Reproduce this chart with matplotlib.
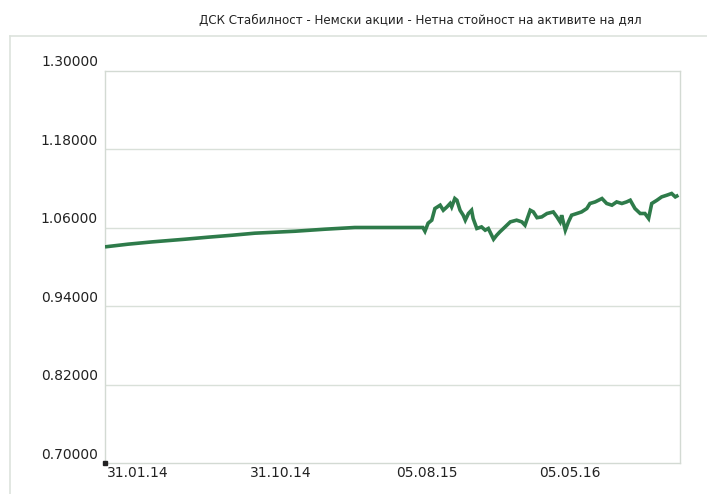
import matplotlib
matplotlib.use("Agg")
import matplotlib.pyplot as plt
from matplotlib.lines import Line2D
from matplotlib.transforms import offset_copy
import pandas as pd

title = "ДСК Стабилност - Немски акции - Нетна стойност на активите на дял"

dates = [
    "2014-01-31", "2014-03-16", "2014-05-01", "2014-07-03", "2014-08-16",
    "2014-10-01", "2014-11-13", "2014-12-22", "2015-01-29", "2015-03-27",
    "2015-05-23", "2015-09-30",
    "2015-10-04", "2015-10-10", "2015-10-17", "2015-10-23", "2015-11-02",
    "2015-11-08", "2015-11-15", "2015-11-21", "2015-11-24", "2015-11-30",
    "2015-12-04", "2015-12-10", "2015-12-16", "2015-12-20", "2015-12-26",
    "2016-01-01", "2016-01-04", "2016-01-11", "2016-01-20", "2016-01-27",
    "2016-02-02", "2016-02-12", "2016-02-18", "2016-02-24", "2016-03-05",
    "2016-03-15", "2016-03-27", "2016-04-06", "2016-04-12", "2016-04-22",
    "2016-04-28", "2016-05-05", "2016-05-14", "2016-05-24", "2016-06-05",
    "2016-06-12", "2016-06-18", "2016-06-21", "2016-06-28", "2016-07-04",
    "2016-07-10", "2016-07-20", "2016-07-29", "2016-08-08", "2016-08-14",
    "2016-08-24", "2016-09-06", "2016-09-15", "2016-09-25", "2016-10-04",
    "2016-10-14", "2016-10-23", "2016-10-30", "2016-11-08", "2016-11-18",
    "2016-11-27", "2016-12-04", "2016-12-10", "2016-12-20", "2016-12-29",
    "2017-01-08", "2017-01-17", "2017-01-24", "2017-01-30",
]
nav = [
    1.0304, 1.0345, 1.0380, 1.0421, 1.0452,
    1.0482, 1.0513, 1.0528, 1.0543, 1.0574,
    1.0600, 1.0600,
    1.0543, 1.0666, 1.0712, 1.0890, 1.0941,
    1.0864, 1.0915, 1.0967, 1.0915, 1.1043,
    1.1017, 1.0864, 1.0788, 1.0712, 1.0814,
    1.0864, 1.0738, 1.0585, 1.0609, 1.0559,
    1.0585, 1.0421, 1.0482, 1.0533, 1.0609,
    1.0686, 1.0712, 1.0686, 1.0635, 1.0864,
    1.0838, 1.0750, 1.0762, 1.0814, 1.0838,
    1.0762, 1.0686, 1.0788, 1.0559, 1.0686,
    1.0788, 1.0814, 1.0838, 1.0890, 1.0967,
    1.0991, 1.1043, 1.0967, 1.0941, 1.0991,
    1.0967, 1.0991, 1.1017, 1.0890, 1.0814,
    1.0814, 1.0738, 1.0967, 1.1017, 1.1068,
    1.1094, 1.1120, 1.1068, 1.1094,
]

y_ticks = [0.70, 0.82, 0.94, 1.06, 1.18, 1.30]
y_labels = ["0.70000", "0.82000", "0.94000", "1.06000", "1.18000", "1.30000"]
x_ticks = ["2014-01-31", "2014-10-31", "2015-08-05", "2016-05-05"]
x_labels = ["31.01.14", "31.10.14", "05.08.15", "05.05.16"]
x_start, x_end = "2014-01-31", "2017-02-02"

W, H = 707, 494
fig = plt.figure(figsize=(W / 100, H / 100), dpi=100)
fig.patch.set_facecolor("white")

ax = fig.add_axes([105 / W, 1 - 463 / H, (680 - 105) / W, (463 - 70.5) / H])

x = pd.to_datetime(dates)
line_color = "#2e7b4a"
ax.plot(x, nav, color=line_color, lw=2.6, solid_joinstyle="miter",
        solid_capstyle="butt", zorder=3)

ax.set_xlim(pd.Timestamp(x_start), pd.Timestamp(x_end))
ax.set_ylim(y_ticks[0], y_ticks[-1])

grid_c = "#d9e0d9"
for v in y_ticks[1:-1]:
    ax.axhline(v, color=grid_c, lw=1.0, zorder=1)
for s in ax.spines.values():
    s.set_color("#d3dad3")
    s.set_linewidth(1.0)

ax.set_yticks(y_ticks)
ax.set_yticklabels([])
ax.set_xticks(pd.to_datetime(x_ticks))
ax.set_xticklabels([])
ax.tick_params(length=0)

txt_c = "#222222"
tr_y = offset_copy(ax.get_yaxis_transform(), fig=fig, x=-5, y=1.0, units="points")
for v, lab in zip(y_ticks, y_labels):
    ax.text(0, v, lab, transform=tr_y, ha="right", va="bottom",
            fontsize=10, color=txt_c, family="DejaVu Sans")

tr_x = offset_copy(ax.get_xaxis_transform(), fig=fig, x=1.5, y=-2, units="points")
for d, lab in zip(pd.to_datetime(x_ticks), x_labels):
    ax.text(d, 0, lab, transform=tr_x, ha="left", va="top",
            fontsize=10, color=txt_c, family="DejaVu Sans")

# small marker at origin
ax.plot([pd.Timestamp(x_start)], [y_ticks[0]], marker="s", ms=3,
        color="#222222", clip_on=False, zorder=5)

# outer frame
frame_c = "#dde3dd"
fig.add_artist(Line2D([9.5 / W, 9.5 / W], [0, 1 - 36 / H], color=frame_c,
                      lw=1.2, transform=fig.transFigure))
fig.add_artist(Line2D([9.5 / W, 1], [1 - 36 / H, 1 - 36 / H], color=frame_c,
                      lw=1.2, transform=fig.transFigure))

fig.text(420 / W, 1 - 20 / H, title, ha="center", va="center",
         fontsize=8.6, color=txt_c, family="DejaVu Sans")

fig.savefig("out.png", dpi=100, facecolor="white")
